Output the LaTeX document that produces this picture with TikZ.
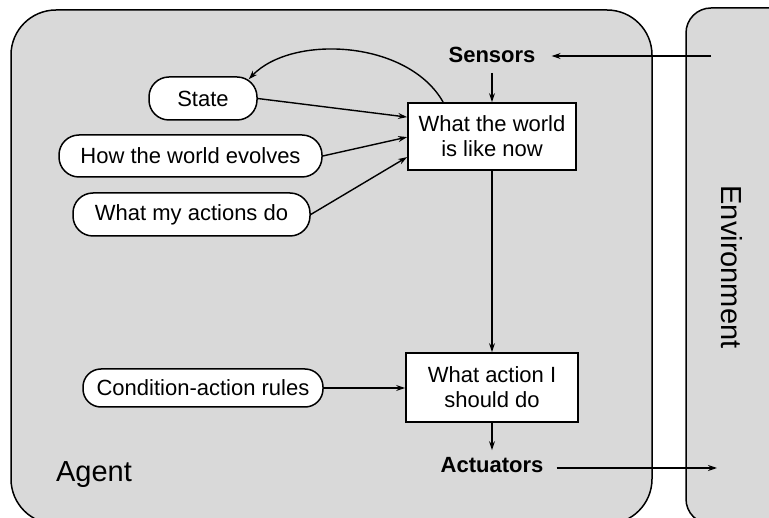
\documentclass[tikz,border=0pt]{standalone}
\usepackage{fontspec}
\setmainfont{Liberation Sans}
\usetikzlibrary{arrows.meta,calc}
\definecolor{bggray}{RGB}{217,217,217}
\begin{document}
\begin{tikzpicture}[x=1pt,y=-1pt,
  txt/.style={font=\fontsize{22}{25}\selectfont},
  big/.style={font=\fontsize{29}{33}\selectfont},
  pill/.style={txt,draw,line width=1.5pt,fill=white,rounded corners=20pt,inner sep=0pt,minimum height=42pt},
  boxnode/.style={txt,draw,line width=1.8pt,fill=white,inner sep=0pt,align=center},
  lbl/.style={font=\fontsize{22}{25}\selectfont\bfseries},
  arr/.style={line width=1.4pt,-{Stealth[length=9pt,width=6pt,inset=3pt]}},
  frame/.style={draw,line width=1.5pt,fill=bggray}]
\useasboundingbox (0,0) rectangle (769,518);
\clip (0,0) rectangle (769,518);
% frames
\path[frame,rounded corners=45pt] (11,10) rectangle (652,524);
\path[frame,rounded corners=25pt] (686,8) rectangle (800,524);
\node[big,rotate=-90] (env) at (732,267) {Environment};
\node[big] (agent) at (94,475) {Agent};
% labels
\node[lbl,inner xsep=16pt,inner ysep=10pt] (sensors) at (492,55) {Sensors};
\node[lbl,inner xsep=13pt,inner ysep=7pt] (act) at (492,465) {Actuators};
% boxes
\node[boxnode,minimum width=168pt,minimum height=67pt] (box1) at (492,136.5) {What the world\\is like now};
\node[boxnode,minimum width=172pt,minimum height=69pt] (box2) at (492,387.5) {What action I\\should do};
% pills
\node[pill,minimum width=108pt,minimum height=43pt] (state) at (203,98.5) {State};
\node[pill,minimum width=263pt] (hwe) at (190.5,156) {How the world evolves};
\node[pill,minimum width=237pt,minimum height=43pt] (wmad) at (191.5,214.5) {What my actions do};
\node[pill,minimum width=240pt,minimum height=38pt,rounded corners=18pt] (car) at (203,388) {Condition-action rules};
% environment ends
\coordinate (envS) at (711,56);
\coordinate (envA) at (717,468);
% connectors
\draw[arr] (envS) -- (sensors.east |- envS);
\draw[arr] (sensors.south) -- (box1.north);
\draw[arr] (box1.south) -- (box2.north);
\draw[arr] (box2.south) -- (act.north);
\draw[arr] ($(act.east)+(0,3)$) -- (envA);
\draw[arr] (state.east) -- ($(box1.north west)+(0,15)$);
\draw[arr] (hwe.east) -- ($(box1.north west)+(0,35)$);
\draw[arr] (wmad.east) -- ($(box1.north west)+(0,55)$);
\draw[arr] (car.east) -- (car.east -| box2.west);
\draw[arr] ($(box1.north west)+(36,0)$) .. controls (408,40) and (292,34) .. ($(state.north east)+(-9,3)$);
\end{tikzpicture}
\end{document}
